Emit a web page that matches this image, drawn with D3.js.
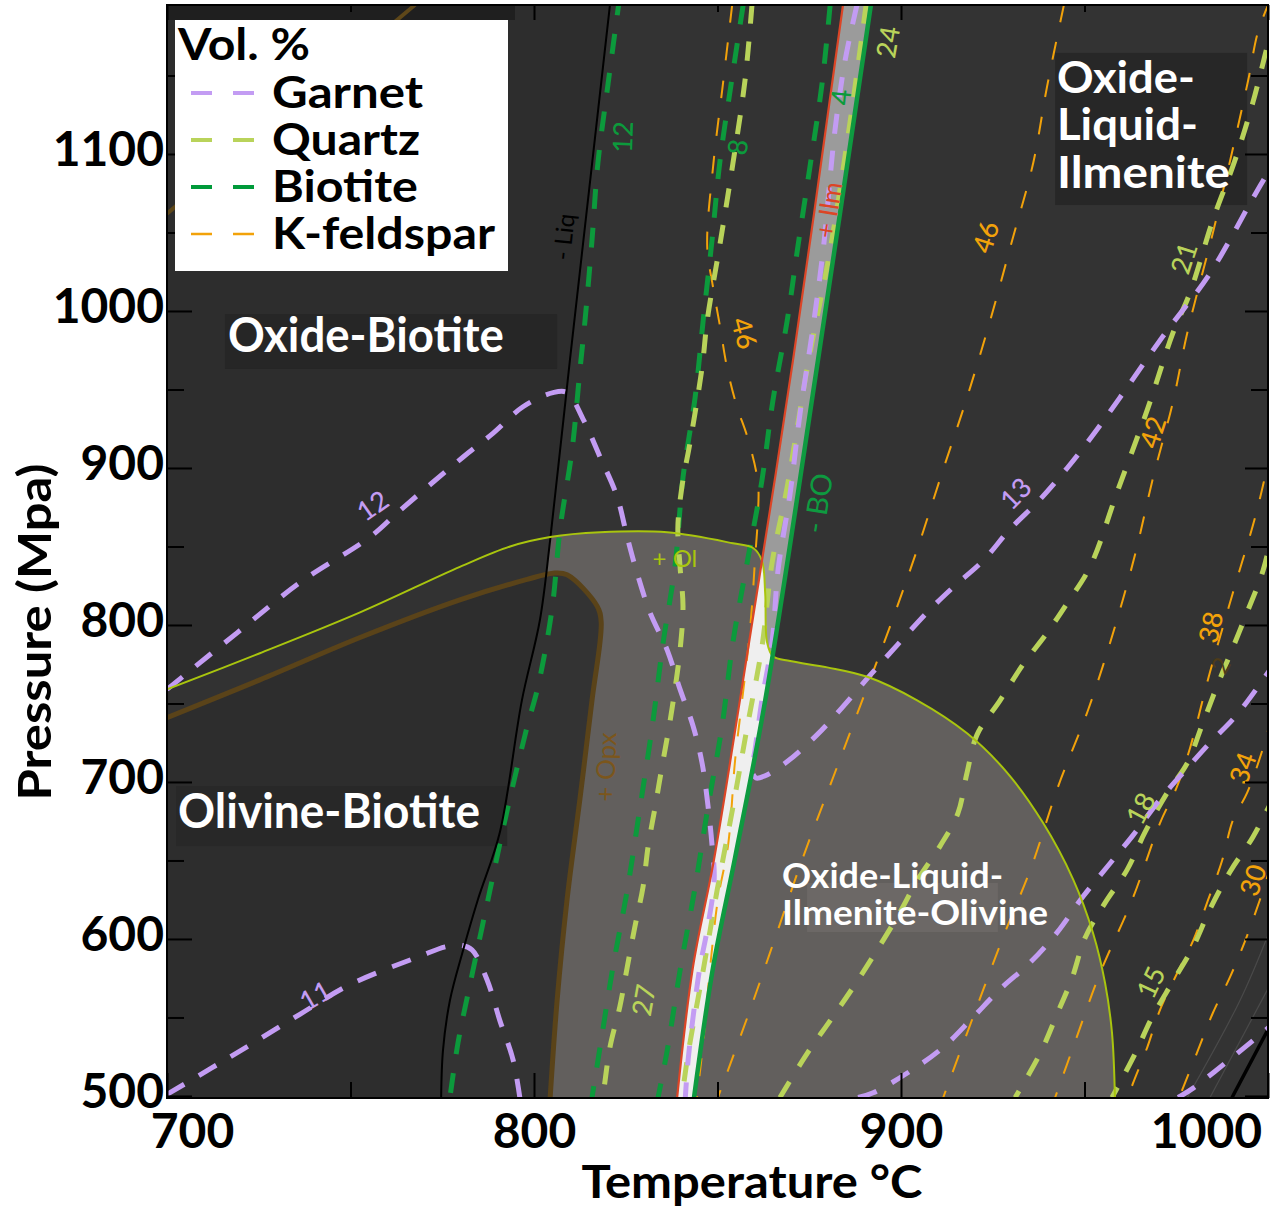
<!DOCTYPE html>
<html><head><meta charset="utf-8">
<script src="https://cdn.jsdelivr.net/npm/d3@7"></script>
<style>html,body{margin:0;padding:0;background:#fff;} svg{display:block;}</style>
</head><body>
<svg id="chart" width="1276" height="1210"></svg>
<script>
// ---------- axes / ticks ----------
const xTicksMajor = [700, 800, 900, 1000];
const xTicksMinor = [750, 850, 950];
const yTicksMajor = [500, 600, 700, 800, 900, 1000, 1100];
const yTicksMinor = [550, 650, 750, 850, 950, 1050, 1150];
const xTickLabels = ["700", "800", "900", "1000"];
const yTickLabels = ["500", "600", "700", "800", "900", "1000", "1100"];
const legendTitle = "Vol. %";
const legendItems = ["Garnet", "Quartz", "Biotite", "K-feldspar"];

// ---------- phase boundaries [T °C, P MPa] ----------
const liquidus = [[820.7,1195],[815.3,1083],[809.8,969],[804.4,854],[801.6,803],[796.7,752],[790.7,668],[784.7,625],[780.7,593],[777.1,561],[775.2,529],[774.7,499]];
const ilmeniteIn = [[884.2,1195],[870.6,969],[856.1,752],[849.0,650],[843.3,582],[839.0,499]];
const biotiteOut = [[891.8,1195],[877.4,969],[863.0,752],[854.8,652],[848.8,582],[843.6,499]];
const olivineIn = [[700,759],[725.3,782],[752.6,808],[779.8,837],[793.5,850],[804.4,856],[818,859],[836.3,859],[854.2,852],[859.7,849],[862.1,841],[863,820],[863.5,789],[865.1,780],[869.8,777],[879.9,773],[890.8,767],[904.4,752],[918,731],[928.9,706],[938.7,674],[946.9,638],[952.3,604],[955.6,572],[957.5,540],[958.3,498]];
const opxIn = [[700,741],[725.3,765],[752.6,792],[779.8,816],[798.1,829],[805.2,833],[809,832],[817.2,812],[818.3,802],[815.8,752],[812.5,689],[809,625],[806.3,561],[804.4,499]];
const hiddenBoundary = [[700,1062],[767.6,1195]];
const cornerBlack = [[990.2,499],[1000.6,545]];
const cornerGray1 = [[978.0,499],[992.4,561],[1000.6,606]];
const cornerGray2 = [[984.2,499],[1000.6,571]];

// ---------- isopleths ----------
const garnet11 = [[700,501],[712.3,518],[722.3,532],[736.2,552],[749.9,571],[768.9,589],[775.8,595],[779.8,596],[783.1,593],[787.2,574],[790.7,548],[794.3,523],[796.2,498]];
const garnet12 = [[700,759],[719.1,795],[736.2,827],[755.3,856],[763.5,873],[780.7,907],[788.8,922],[797,939],[805.2,948],[809,948],[813.4,931],[818,907],[822.6,882],[825.4,856],[828.1,833],[831.6,808],[836.3,784],[839.8,759],[843.3,736],[845.8,712],[847.4,685],[848.5,660],[849.1,638],[847.2,606],[845.2,582],[843.6,555],[842,523],[841.2,498]];
const garnet13 = [[888,1195],[884.8,1160],[882,1115],[878.8,1039],[875.8,986],[872.5,935],[869.8,884],[866.5,835],[864.9,790],[862.1,752],[860.2,720],[859.4,708],[860.5,702.5],[863,704],[869,713],[877.1,730],[884.2,748],[891.6,768],[898.9,787],[907.1,808],[914.2,824],[922.4,841],[929.7,861],[937.9,880],[945.3,900],[952.3,921],[959.7,945],[971.4,984],[984.2,1024],[995.7,1071],[1001.9,1096]];
const garnetLow = [[888.3,499],[892.4,502],[903.3,517],[911.5,531],[919.6,550],[927,568],[935.2,585],[942.5,604],[949.6,627],[956.2,646],[963.2,666],[970.6,689],[976.9,706],[984.2,725],[991.6,743],[1001.9,776]];
const garnetCorner = [[975.5,499],[979.6,505],[988.9,522],[997.3,538],[1001.9,547]];

const quartz27 = [[859.4,1195],[857.5,1147],[854.2,1094],[850.7,1043],[847.2,994],[845.8,964],[842.5,916],[840.3,888],[839.2,862],[839.8,837],[840.6,812],[839.8,784],[838.4,759],[836.8,735],[834.9,710],[833,684],[831.1,659],[829.7,633],[827.5,608],[825.4,582],[823.4,557],[820.7,531],[818.8,499]];
const quartz24 = [[890.5,1195],[886.1,1120],[880.7,1039],[874.7,967],[869,888],[864.9,840],[862.1,786],[858.1,735],[854.2,684],[849.9,631],[846.1,580],[842,527],[840.3,499]];
const quartz21 = [[1001.9,1189],[995.9,1133],[991,1096],[985,1058],[978.8,1012],[974.1,986],[967.1,937],[959.1,886],[951.5,837],[945.3,814],[939.8,795],[933.3,775],[927,752],[920.7,730],[918,706],[915.5,680],[910.6,659],[904.6,638],[899.7,617],[893.5,593],[886.9,569],[880.7,548],[874.4,527],[867,499]];
const quartz18 = [[1001.9,867],[998.7,835],[994.3,808],[990.5,786],[986.1,761],[982,736],[978,712],[972.5,693],[966.5,668],[961.6,644],[955.6,623],[950.2,601],[946.6,575],[942.5,552],[937.9,527],[931.1,499]];
const quartz15 = [[1001.9,692],[995.9,665],[989.7,643],[984.2,619],[979.6,595],[974.1,573],[968.4,550],[963.8,527],[957.5,499]];

const biotite12 = [[823.4,1201],[820.2,1145],[817.4,1094],[815.8,1045],[813.9,994],[812.5,962],[810.4,912],[807.1,861],[804.9,810],[801.1,761],[798.1,735],[792.7,682],[788,631],[783.1,577],[779.3,534],[777.1,499]];
const biotite8 = [[857,1195],[854,1149],[850.7,1096],[848.5,1045],[846.1,994],[843.9,945],[840.6,894],[838.4,837],[835.2,789],[832.2,735],[828.9,684],[825.4,631],[821.5,582],[818,531],[815.8,499]];
const biotite4 = [[880.7,1195],[878.5,1145],[875.2,1092],[871.9,1041],[869,994],[865.1,943],[862.1,892],[858.1,840],[854.2,789],[851.2,735],[847.4,684],[843.9,633],[839.8,580],[836.3,529],[833.8,499]];

const kfs46a = [[854,1195],[851.5,1145],[848.8,1092],[847.2,1041],[848.8,1015],[850.7,990],[852.6,964],[855.3,939],[858.1,920],[861,891],[861,869],[860.2,841],[859.4,812],[858.3,784],[856.7,752],[854.8,714],[852.9,660],[850.1,625],[848,582],[846.1,534],[844.4,499]];
const kfs46b = [[944.4,1195],[939.8,1143],[936,1094],[930.3,1045],[924.3,994],[918,945],[911.2,897],[904.4,848],[897,799],[888.8,748],[881.2,701],[873.3,652],[866.2,604],[858.9,555],[850.1,499]];
const kfs42 = [[1000.6,1198],[997.3,1178],[994.6,1147],[989.7,1096],[985,1050],[978,986],[974.1,942],[968.7,894],[963.8,845],[957.8,795],[951,746],[942.8,697],[935.7,647],[927.8,601],[919.6,550],[911.5,499]];
const kfs38 = [[1001.1,915],[997,873],[990.5,821],[984.2,770],[978.8,722],[975.2,697],[970.6,674],[963,625],[954.2,578],[946.9,531],[942,499]];
const kfs34 = [[1001.1,743],[998.7,722],[994.3,693],[990.5,676],[987.5,650],[983.7,625],[979.6,599],[975.2,578],[970.6,555],[967.1,531],[963.2,508],[961.9,499]];
const kfs30 = [[1001.1,649],[997.8,625],[993.8,599],[989.7,576],[985,553],[980.9,529],[975.8,499]];

// ---------- labels ----------
const contourLabels = [
  ["12",755.9,876.4,-35,"grt"],["11",740.3,564.3,-30,"grt"],["13",931.1,884.1,-45,"grt"],
  ["12",824.0,1110.9,-88,"bt"],["8",855.3,1104.5,-82,"bt"],["4",883.4,1136.3,-84,"bt"],
  ["24",896.2,1171.4,-80,"qz"],["27",829.7,561.1,-80,"qz"],["21",976.9,1033.8,-72,"qz"],["18",965.1,683.4,-62,"qz"],["15",967.9,572.6,-65,"qz"],
  ["46",857.5,986.0,75,"kfs"],["46",922.9,1047.2,-72,"kfs"],["42",968.4,922.9,-72,"kfs"],["38",984.2,798.7,-78,"kfs"],["34",992.9,708.9,-70,"kfs"],["30",995.7,637.6,-72,"kfs"]
];
const boundaryLabels = [
  ["- Liq",807.9,1047.2,-84,"liq",24],["+ Ilm",880.1,1064.4,-81,"ilm",26],["- BO",877.1,877.7,-81,"bo",29],
  ["+ Opx",819.4,709.5,-88,"opx",26],["+ Ol",838.4,842.7,0,"ol",24],["2",986.9,774.5,-60,"faint",24]
];
const regionNames = ["Oxide-Biotite","Olivine-Biotite",["Oxide-","Liquid-","Ilmenite"],["Oxide-Liquid-","Ilmenite-Olivine"]];

// ---------- styles ----------
const C = {grt:"#c39cf3", qz:"#b9d35a", bt:"#0c9a3c", kfs:"#f2a20a",
  liq:"#000", ilm:"#dc4526", bo:"#0e9a40", opx:"#7b561c", ol:"#a9c50e", faint:"#4e3b18"};

const svg = d3.select("#chart");
const L = 167, R = 1268, TOP = 5, B = 1098;
const x = d3.scaleLinear().domain([700, 1000]).range([L, R]);
const y = d3.scaleLinear().domain([498.7, 1194.9]).range([B, TOP]);
const curve = d3.curveCatmullRom.alpha(0.5);
const line = d3.line().x(d => x(d[0])).y(d => y(d[1])).curve(curve);
const lin = d3.line().x(d => x(d[0])).y(d => y(d[1]));

function closed(pts, extra) {
  let p = line(pts);
  extra.forEach(e => { p += `L${x(e[0])},${y(e[1])}`; });
  return p + "Z";
}
const leftLiq = closed(liquidus, [[774.7,480],[680,480],[680,1210],[820.7,1210]]);
const rightLiq = closed(liquidus, [[774.7,480],[1020,480],[1020,1210],[820.7,1210]]);
const belowOl = closed(olivineIn, [[958.3,480],[680,480],[680,759]]);
const opxField = closed(opxIn, [[804.4,480],[680,480],[680,741]]);
const band = line(ilmeniteIn) + line(biotiteOut.slice().reverse()).replace(/^M/, "L") + "Z";

const defs = svg.append("defs");
defs.append("clipPath").attr("id","plot").append("rect").attr("x",L).attr("y",TOP).attr("width",R-L).attr("height",B-TOP);
defs.append("clipPath").attr("id","cpL").append("path").attr("d",leftLiq);
defs.append("clipPath").attr("id","cpR").append("path").attr("d",rightLiq);
defs.append("clipPath").attr("id","cpOl").append("path").attr("d",belowOl);

const g = svg.append("g").attr("clip-path","url(#plot)");
g.append("rect").attr("x",L).attr("y",TOP).attr("width",R-L).attr("height",B-TOP).attr("fill","#333333");
g.append("path").attr("d",leftLiq).attr("fill","#2d2d2d");
g.append("rect").attr("x",L).attr("y",TOP).attr("width",348).attr("height",15).attr("fill","#1f1f1f");
g.append("path").attr("d",belowOl).attr("fill","#625f5d").attr("clip-path","url(#cpR)");
g.append("path").attr("d",belowOl).attr("fill","#323232").attr("clip-path","url(#cpL)");
g.append("path").attr("d",opxField).attr("fill","#333333").attr("clip-path","url(#cpR)");
g.append("path").attr("d",opxField).attr("fill","#2d2d2d").attr("clip-path","url(#cpL)");
g.append("path").attr("d",band).attr("fill","#9b9b9b");
g.append("path").attr("d",band).attr("fill","#efefef").attr("clip-path","url(#cpOl)");

// region label boxes
const boxes = [[715.8,998.0,806.3,963.1,"#262626"],[702.5,697.4,792.7,659.2,"#282828"],[942.0,1164.4,994.3,1067.5,"#272727"],[874.4,635.7,926.4,604.4,"#6c6866"]];
boxes.forEach(b => g.append("rect").attr("x",x(b[0])).attr("y",y(b[1])).attr("width",x(b[2])-x(b[0])).attr("height",y(b[3])-y(b[1])).attr("fill",b[4]));

// corner thin lines
[cornerGray1, cornerGray2].forEach(s => g.append("path").attr("d",line(s)).attr("fill","none").attr("stroke","#4a4a4a").attr("stroke-width",1.2));
g.append("path").attr("d",lin(cornerBlack)).attr("fill","none").attr("stroke","#000").attr("stroke-width",3.5);
g.append("path").attr("d",lin(hiddenBoundary)).attr("fill","none").attr("stroke","#5e4719").attr("stroke-width",4);

function dashed(series, color, w, dash) {
  series.forEach(s => g.append("path").attr("d",line(s)).attr("fill","none")
    .attr("stroke",color).attr("stroke-width",w).attr("stroke-dasharray",dash));
}
dashed([kfs46a,kfs46b,kfs42,kfs38,kfs34,kfs30], C.kfs, 2, "18 20");
dashed([biotite12,biotite8,biotite4], C.bt, 5, "20 19");
dashed([quartz27,quartz24,quartz21,quartz18,quartz15], C.qz, 5, "19 18");
dashed([garnet11,garnet12,garnet13,garnetLow,garnetCorner], C.grt, 5, "20 17");

function solid(s, color, w) {
  g.append("path").attr("d",line(s)).attr("fill","none").attr("stroke",color).attr("stroke-width",w).attr("stroke-linejoin","round");
}
solid(opxIn, "#5a4319", 5);
solid(liquidus, "#000", 2);
solid(olivineIn, C.ol, 2);
solid(ilmeniteIn, C.ilm, 2.2);
solid(biotiteOut, C.bo, 4.5);

// contour & boundary labels
contourLabels.forEach(l => {
  g.append("text").attr("transform",`translate(${x(l[1])},${y(l[2])}) rotate(${l[3]})`)
    .attr("text-anchor","middle").attr("dominant-baseline","central")
    .attr("font-family","Lato, 'Open Sans', sans-serif").attr("font-weight",500)
    .attr("font-size",27).attr("fill", C[l[4]]).text(l[0]);
});
boundaryLabels.forEach(l => {
  g.append("text").attr("transform",`translate(${x(l[1])},${y(l[2])}) rotate(${l[3]})`)
    .attr("text-anchor","middle").attr("dominant-baseline","central")
    .attr("font-family","Lato, 'Open Sans', sans-serif")
    .attr("font-size", l[5]).attr("fill", C[l[4]]).text(l[0]);
});

// region names
const rn = svg.append("g").attr("font-family","Lato, sans-serif").attr("font-weight",700).attr("fill","#fff");
function rtext(t, T, P, size, len) {
  rn.append("text").attr("x",x(T)).attr("y",y(P)).attr("font-size",size)
    .attr("textLength",len).attr("lengthAdjust","spacingAndGlyphs").text(t);
}
rtext(regionNames[0], 716.6, 973.9, 47, 276);
rtext(regionNames[1], 703.0, 670.7, 47, 302);
rtext(regionNames[2][0], 942.5, 1138.9, 44, 138);
rtext(regionNames[2][1], 942.5, 1108.9, 44, 141);
rtext(regionNames[2][2], 942.5, 1078.4, 44, 173);
rtext(regionNames[3][0], 867.6, 632.5, 34, 221);
rtext(regionNames[3][1], 867.6, 608.9, 34, 266);

// frame
svg.append("rect").attr("x",L).attr("y",TOP).attr("width",R-L).attr("height",B-TOP).attr("fill","none").attr("stroke","#000").attr("stroke-width",2);

// ticks via d3 axes (inward)
function tk(axis, vals, size, tr) {
  svg.append("g").attr("transform",tr).call(axis.tickValues(vals).tickSize(size).tickFormat(""))
    .call(a => a.select(".domain").remove())
    .selectAll("line").attr("stroke","#000").attr("stroke-width",2);
}
tk(d3.axisBottom(x), xTicksMajor, -25, `translate(0,${B})`);
tk(d3.axisBottom(x), xTicksMinor, -16, `translate(0,${B})`);
tk(d3.axisTop(x), xTicksMajor, -15, `translate(0,${TOP})`);
tk(d3.axisTop(x), xTicksMinor, -7, `translate(0,${TOP})`);
tk(d3.axisLeft(y), yTicksMajor, -25, `translate(${L},0)`);
tk(d3.axisLeft(y), yTicksMinor, -17, `translate(${L},0)`);
tk(d3.axisRight(y), yTicksMajor, -23, `translate(${R},0)`);
tk(d3.axisRight(y), yTicksMinor, -17, `translate(${R},0)`);

// tick labels
const xl = svg.append("g").attr("transform",`translate(0,${B})`)
  .call(d3.axisBottom(x).tickValues(xTicksMajor).tickSize(0).tickFormat((d,i) => xTickLabels[i]));
xl.select(".domain").remove();
xl.selectAll("text").attr("dy",null).attr("y",50).attr("font-family","Lato, sans-serif").attr("font-weight",700)
  .attr("font-size",48).attr("fill","#000")
  .attr("dx",(d,i) => i === 0 ? 25 : (i === xTicksMajor.length-1 ? -62 : 0));
const yl = svg.append("g").attr("transform",`translate(${L-3},0)`)
  .call(d3.axisLeft(y).tickValues(yTicksMajor).tickSize(0).tickFormat((d,i) => yTickLabels[i]));
yl.select(".domain").remove();
yl.selectAll("text").attr("dy",null).attr("x",0).attr("y",12).attr("text-anchor","end")
  .attr("font-family","Lato, sans-serif").attr("font-weight",700).attr("font-size",48).attr("fill","#000");

// axis titles
svg.append("text").attr("x",752).attr("y",1198).attr("text-anchor","middle")
  .attr("font-family","Lato, sans-serif").attr("font-weight",700).attr("font-size",46)
  .attr("textLength",341).attr("lengthAdjust","spacingAndGlyphs").text("Temperature °C");
svg.append("text").attr("transform","translate(51,632) rotate(-90)").attr("text-anchor","middle")
  .attr("font-family","Lato, sans-serif").attr("font-weight",700).attr("font-size",46)
  .attr("textLength",337).attr("lengthAdjust","spacingAndGlyphs").text("Pressure (Mpa)");

// legend
const lg = svg.append("g").attr("font-family","Lato, sans-serif").attr("font-weight",700);
lg.append("rect").attr("x",175).attr("y",20).attr("width",333).attr("height",251).attr("fill","#fff");
lg.append("text").attr("x",178).attr("y",60).attr("font-size",44).attr("textLength",132).attr("lengthAdjust","spacingAndGlyphs").text(legendTitle);
const lcols = [C.grt, C.qz, "#009a3a", C.kfs];
const lw = [4, 4, 4, 2.5];
const lens = [151, 148, 146, 223];
legendItems.forEach((t,i) => {
  const yy = 93 + i*47;
  lg.append("line").attr("x1",191).attr("x2",254).attr("y1",yy).attr("y2",yy)
    .attr("stroke",lcols[i]).attr("stroke-width",lw[i]).attr("stroke-dasharray","21 21");
  lg.append("text").attr("x",272).attr("y",yy+15).attr("font-size",44)
    .attr("textLength",lens[i]).attr("lengthAdjust","spacingAndGlyphs").text(t);
});
</script></body></html>
